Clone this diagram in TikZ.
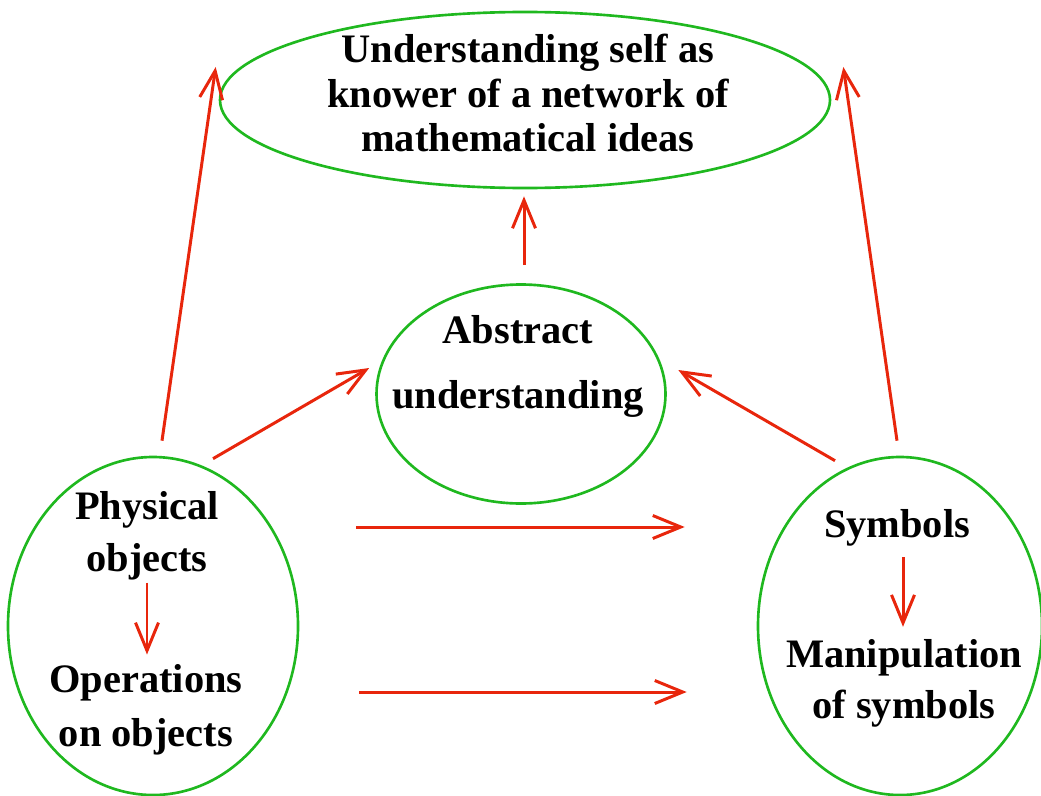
\documentclass[tikz,border=0pt]{standalone}
\usepackage{fontspec}
\setmainfont{Liberation Serif}
\definecolor{RingGreen}{HTML}{1FB81F}
\definecolor{ArrowRed}{HTML}{E8260C}
\usepackage{tikz}
\usetikzlibrary{arrows.meta, shapes.geometric}

\begin{document}
\begin{tikzpicture}[x=0.2mm, y=-0.2mm,
  ring/.style={draw=RingGreen, line width=1.5pt, ellipse, inner sep=0pt},
  lbl/.style={inner sep=0pt, align=center,
              font=\fontsize{23}{29.5}\selectfont\bfseries},
  arr/.style={-{Straight Barb[length=5.6mm, width=4.6mm]}, draw=ArrowRed,
              line width=1.7pt}]
  \useasboundingbox (0,0) rectangle (1041,795);
  % the four ellipses
  \node[ring, minimum width=122mm, minimum height=35.2mm] (selfnet) at (525,100) {};
  \node[ring, minimum width=57.8mm, minimum height=43.8mm] (abstr) at (521,394) {};
  \node[ring, minimum width=58mm, minimum height=67.6mm] (concrete) at (153,626) {};
  \node[ring, minimum width=56.8mm, minimum height=67.6mm] (symb) at (900,626) {};
  % texts
  \node[lbl, font=\fontsize{23}{25.5}\selectfont\bfseries] (selftxt) at (528,93)
    {Understanding self as\\knower of a network of\\mathematical ideas};
  \node[lbl, font=\fontsize{23}{37}\selectfont\bfseries] (abstxt) at (518,366)
    {Abstract\\understanding};
  \node[lbl] (phys) at (147,536) {Physical\\objects};
  \node[lbl, font=\fontsize{23}{30.5}\selectfont\bfseries] (oper) at (146,710)
    {Operations\\on objects};
  \node[lbl, anchor=base] (symtxt) at (897,537) {Symbols};
  \node[lbl, font=\fontsize{23}{29}\selectfont\bfseries] (manip) at (904,683)
    {Manipulation\\of symbols};
  % arrows
  \draw[arr] ([shift={(9,-15)}]concrete.north) -- ([shift={(-3,-33)}]selfnet.west);
  \draw[arr] ([shift={(-3,-15)}]symb.north) -- ([shift={(12,-33)}]selfnet.east);
  \draw[arr] ([shift={(60,3)}]concrete.north) -- ([shift={(-6,-26)}]abstr.west);
  \draw[arr] ([shift={(-65,5)}]symb.north) -- ([shift={(11.5,-24)}]abstr.east);
  \draw[arr] ([shift={(3,-18)}]abstr.north) -- ([shift={(-1,7)}]selfnet.south);
  \draw[arr] ([shift={(57,-99)}]concrete.east) -- ([shift={(-72,-99)}]symb.west);
  \draw[arr] ([shift={(60,66)}]concrete.east) -- ([shift={(-70,66)}]symb.west);
  \draw[arr, shorten <=0.4mm, shorten >=2mm] (phys.south) -- (phys.south |- oper.north);
  \draw[arr, shorten <=2.2mm, shorten >=2.4mm] ([xshift=1.2mm]symtxt.south)
    -- ([xshift=1.2mm]symtxt.south |- manip.north);
\end{tikzpicture}
\end{document}
